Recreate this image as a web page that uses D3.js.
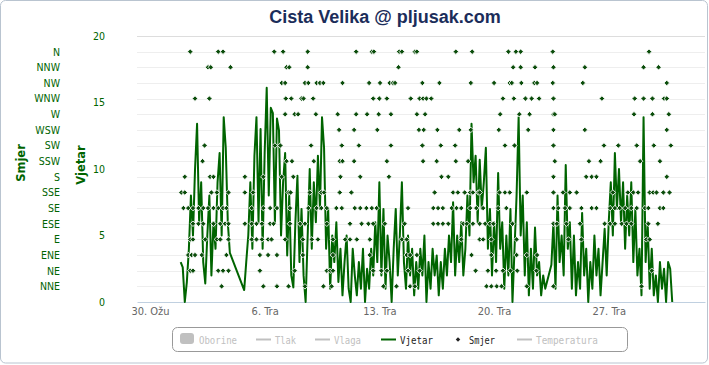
<!DOCTYPE html>
<html><head><meta charset="utf-8">
<script src="https://cdn.jsdelivr.net/npm/d3@7"></script>
<style>body{margin:0;background:#fff} svg{display:block}</style>
</head><body>
<svg id="c" width="709" height="365"></svg>
<script>
// ---------------- data ----------------
const chartTitle = "Cista Velika @ pljusak.com";
const directions = ["NNE","NE","ENE","E","ESE","SE","SSE","S","SSW","SW","WSW","W","WNW","NW","NNW","N"];
const windTicks = [0,5,10,15,20];
const xTickDates = ["2013-03-30","2013-04-06","2013-04-13","2013-04-20","2013-04-27"];
const xTickLabels = ["30. Ožu","6. Tra","13. Tra","20. Tra","27. Tra"];
const legendNames = ["Oborine","Tlak","Vlaga","Vjetar","Smjer","Temperatura"];
const legendVisible = [false,false,false,true,true,false];

// wind speed (Vjetar), one value every 3 hours from hour 45 after 30 Mar 00:00; null = missing
const windStartHour = 45, windStepHours = 3;
const windValues = [
 3,2.6,0, 1.5,4,8,5,10, 13.4, 6,9,3,1.4,5, 8,2,6,4, 9,11.2,5,13.9,11.6,6,3.7,
 null,null,null,null,null,null,
 0.9,3,5,9,4,11,13.9,6,13,4,11.2,
 16.1,8,14.6,14.2,6,13.8,12.9,5,9,11.2,
 3.5,8,2,1.1,6,9.5,3,7,2,0,
 5,10,4,9,6,11,7,13.9,11.6,4,
 7,1,5,3,6,1.5,4,0.5,3,5,
 1,0,4,2,0.5,3,1,4,0,2.5,
 1,4,2,6,3,9,2,7,1,5,
 3,0,4,7,2,5,9,3,1,5,
 2,4,0.5,3,1,4,2,5,0,3,
 1,4,2,3.5,0.5,3,1,4,2,5,
 3,7.5,2,5,3,6,2,4,8,5,
 13.4,9,11,6,10.7,7,9,11.6,4,7,
 2,6,3,9.7,4,6,1,5,2,7,
 0,4,8,13.9,5,8,2,6,0.5,4,
 1,5.6,2,3,0.5,2,1,
 null,null,
 2.8,6,1,8,3,5,2,10.3,4,6,
 1,5,0.5,3,1,6.7,2,4,0,3,
 1,5,2,4,0.5,3,5.5,2,6,9,
 5,11.2,7,10,6,9,4,8,5,9,
 3,7,2,4,0.5,13.9,3,6,1,4,
 0.5,2,0,3,1,2.5,0,3,2.5,0
];

// wind direction (Smjer): hours after 30 Mar 00:00 at which each direction was recorded
const smjerNNE = [105,166,186,203,227,254,266,342,361,381,388,493,500,508,515,552,591,720];
const smjerNE  = [59,63,100,107,115,161,212,259,264,268,327,339,347,378,395,477,495,507,517,528,538,566,735];
const smjerENE = [56,61,66,76,112,161,173,186,224,268,322,376,381,391,471,500,537,552,567];
const smjerE   = [59,63,81,98,103,115,149,156,164,173,178,198,224,237,246,268,286,293,303,322,369,376,456,483,488,500,537,613,632,727,732];
const smjerESE = [63,71,78,93,103,110,115,139,149,156,164,176,181,205,220,227,259,293,310,320,327,344,373,415,422,429,437,459,464,473,483,491,498,503,531,591,596,610,630,666,674,681,691,698,705,730,744];
const smjerSE  = [49,56,63,71,78,85,93,100,107,112,149,166,176,186,205,232,244,251,259,273,281,300,308,317,325,332,378,415,422,429,442,449,456,469,478,488,510,522,591,598,608,615,632,647,654,674,681,688,696,705,713,725,730,747,752];
const smjerSSE = [46,51,90,98,115,139,151,203,206,234,251,255,278,295,417,444,451,461,469,473,481,483,512,520,527,552,591,605,615,625,678,700,708,715,732,737,742,752,761];
const smjerS   = [51,88,93,139,166,193,210,279,308,350,427,437,591,639,647,654,757];
const smjerSSW = [77,200,208,240,278,282,299,347,400,420,448,466,593,643,660,718,747];
const smjerSW  = [80,183,191,236,281,306,353,399,426,447,520,534,591,665,686,713,738,763];
const smjerWSW = [277,299,333,394,401,421,453,470,511,554,591,637,757];
const smjerW   = [198,212,217,243,275,302,318,335,353,391,403,513,541,556,591,593,709,736,760];
const smjerWNW = [66,87,199,207,222,225,239,327,336,347,382,395,400,405,412,517,533,550,559,570,591,662,710,723,736,753,757];
const smjerNW  = [193,198,227,232,244,249,254,282,321,337,351,356,359,399,424,470,504,527,530,544,563,567,590,634,757];
const smjerNNW = [85,89,118,200,204,231,364,532,543,564,591,637,723,745];
const smjerN   = [59,100,107,182,195,231,302,325,328,365,369,388,391,448,472,525,536,543,590,731];
const smjerByDirection = [smjerNNE,smjerNE,smjerENE,smjerE,smjerESE,smjerSE,smjerSSE,smjerS,smjerSSW,smjerSW,smjerWSW,smjerW,smjerWNW,smjerNW,smjerNNW,smjerN];

// ---------------- chart ----------------
const HOUR = 3600e3;
const t0 = Date.UTC(2013,2,30);
const hourToDate = h => new Date(t0 + h*HOUR);

const svg = d3.select("#c");
const green = "#006400";
const plot = {left:137, right:705, top:36, bottom:302};

// outer border
svg.append("rect").attr("x",0.5).attr("y",0.5).attr("width",707).attr("height",362.5)
  .attr("rx",5).attr("fill","#fff").attr("stroke","#b9c4d0").attr("stroke-width",1);

// title
svg.append("text").attr("x",385).attr("y",23).attr("text-anchor","middle")
  .attr("font-family","Liberation Sans, Arial, sans-serif").attr("font-weight","bold")
  .attr("font-size",18).attr("fill","#1b2d5a").text(chartTitle);

const x = d3.scaleUtc().domain([hourToDate(-19), hourToDate(813)]).range([plot.left, plot.right]);
const yWind = d3.scaleLinear().domain([0,20]).range([plot.bottom, plot.top]);
const yDir = d3.scaleLinear().domain([0,17]).range([plot.bottom, plot.top]);

// grid lines (direction axis)
const grid = svg.append("g");
grid.selectAll("line.g").data(d3.range(1, directions.length+1)).join("line")
  .attr("x1",plot.left).attr("x2",plot.right)
  .attr("y1",d=>Math.round(yDir(d))+0.5).attr("y2",d=>Math.round(yDir(d))+0.5)
  .attr("stroke","#eeeeee");
grid.append("line").attr("x1",plot.left).attr("x2",plot.right)
  .attr("y1",yWind(20)+0.5).attr("y2",yWind(20)+0.5).attr("stroke","#dddddd");

// x axis
const xAxis = d3.axisBottom(x)
  .tickValues(xTickDates.map(s=>new Date(s+"T00:00:00Z")))
  .tickFormat((d,i)=>xTickLabels[i]).tickSize(0).tickPadding(5);
const gx = svg.append("g").attr("transform",`translate(0,${plot.bottom})`).call(xAxis);
gx.select(".domain").attr("stroke","#c0d0e0");
gx.selectAll("text").attr("font-family","DejaVu Sans Condensed, DejaVu Sans, sans-serif")
  .attr("font-size",11).attr("fill","#666");

// left direction axis
const dirAxis = d3.axisLeft(yDir).tickValues(d3.range(1,directions.length+1))
  .tickFormat(d=>directions[d-1]).tickSize(0).tickPadding(0);
const gd = svg.append("g").attr("transform","translate(60,0)").call(dirAxis);
gd.select(".domain").remove();
gd.selectAll("text").attr("font-family","DejaVu Sans Condensed, DejaVu Sans, sans-serif")
  .attr("font-size",10.5).attr("fill",green);

// wind axis
const windAxis = d3.axisLeft(yWind).tickValues(windTicks).tickSize(0).tickPadding(0);
const gw = svg.append("g").attr("transform","translate(105,0)").call(windAxis);
gw.select(".domain").remove();
gw.selectAll("text").attr("font-family","DejaVu Sans Condensed, DejaVu Sans, sans-serif")
  .attr("font-size",10.5).attr("fill",green);

// axis titles
svg.append("text").attr("transform","translate(25,163) rotate(-90)").attr("text-anchor","middle")
  .attr("font-family","DejaVu Sans, sans-serif").attr("font-weight","bold").attr("font-size",11.5)
  .attr("fill",green).text("Smjer");
svg.append("text").attr("transform","translate(85,165) rotate(-90)").attr("text-anchor","middle")
  .attr("font-family","DejaVu Sans, sans-serif").attr("font-weight","bold").attr("font-size",11.5)
  .attr("fill",green).text("Vjetar");

// wind line
const windData = windValues.map((v,i)=>({t:hourToDate(windStartHour+i*windStepHours), v}))
  .filter(d=>d.v!==null);
svg.append("path").datum(windData)
  .attr("d", d3.line().x(d=>x(d.t)).y(d=>yWind(d.v)))
  .attr("fill","none").attr("stroke",green).attr("stroke-width",2).attr("stroke-linejoin","round");

// direction markers
const dirPoints = smjerByDirection.flatMap((arr,k)=>arr.map(h=>({t:hourToDate(h), v:k+1})));
const diamond = d3.symbol(d3.symbolSquare, 15);
svg.append("g").selectAll("path").data(dirPoints).join("path")
  .attr("d", diamond)
  .attr("transform", d=>`translate(${x(d.t)},${yDir(d.v)}) rotate(45)`)
  .attr("fill", "#0b4d0b").attr("stroke","#fff").attr("stroke-width",0.8);

// legend
const lg = svg.append("g");
lg.append("rect").attr("x",172.5).attr("y",327.5).attr("width",455).attr("height",24)
  .attr("rx",5).attr("fill","none").attr("stroke","#999").attr("stroke-width",1);
const legendTextX = [199,275,334,400,469,536];
const legendTextW = [38,21,27,33,26,62];
legendNames.forEach((name,i)=>{
  const col = legendVisible[i] ? green : "#c0c0c0";
  const tx = legendTextX[i];
  if (i===0) {
    lg.append("rect").attr("x",180).attr("y",333).attr("width",14).attr("height",11).attr("rx",3).attr("fill","#c0c0c0");
  } else if (name==="Smjer") {
    lg.append("path").attr("d", d3.symbol(d3.symbolSquare, 10)).attr("transform",`translate(${tx-11},339.5) rotate(45)`).attr("fill","#222");
  } else {
    lg.append("line").attr("x1",tx-19).attr("x2",tx-4).attr("y1",339.5).attr("y2",339.5)
      .attr("stroke",col).attr("stroke-width",2);
  }
  lg.append("text").attr("x",tx).attr("y",343.5)
    .attr("font-family","DejaVu Sans Mono, monospace").attr("font-size",11)
    .attr("textLength",legendTextW[i]).attr("lengthAdjust","spacingAndGlyphs")
    .attr("fill", legendVisible[i] ? "#222" : "#c0c0c0").text(name);
});
</script>
</body></html>
